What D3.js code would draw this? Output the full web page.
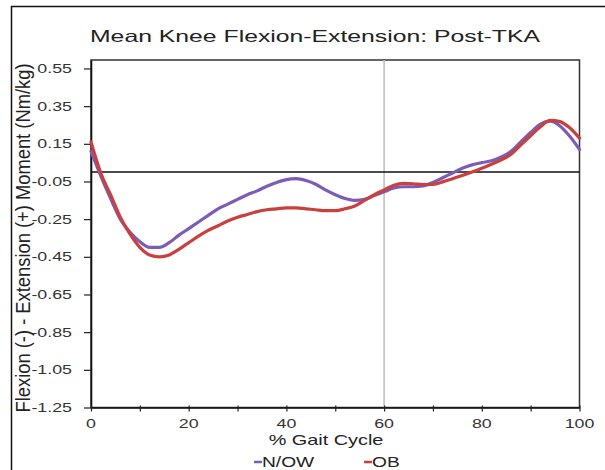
<!DOCTYPE html>
<html><head><meta charset="utf-8">
<script src="https://cdn.jsdelivr.net/npm/d3@7"></script>
<style>body{margin:0;background:#fff}svg{display:block;font-family:"Liberation Sans",Arial,sans-serif}</style>
</head><body><svg id="c" width="605" height="470"></svg>
<script>
const chartTitle = "Mean Knee Flexion-Extension: Post-TKA";
const xTitle = "% Gait Cycle";
const yTitle = "Flexion (-) - Extension (+) Moment (Nm/kg)";
const gaitPct = [0,2,4,6,8,10,12,14,16,18,20,22,24,26,28,30,32,34,36,38,40,42,44,46,48,50,52,54,56,58,60,62,64,66,68,70,72,74,76,78,80,82,84,86,88,90,92,94,96,98,100];
const nowValues = [0.11,-0.02,-0.14,-0.25,-0.32,-0.37,-0.40,-0.40,-0.375,-0.335,-0.30,-0.265,-0.23,-0.195,-0.17,-0.145,-0.12,-0.10,-0.075,-0.055,-0.04,-0.035,-0.045,-0.065,-0.095,-0.12,-0.14,-0.15,-0.145,-0.125,-0.105,-0.085,-0.078,-0.078,-0.074,-0.055,-0.03,-0.005,0.02,0.038,0.05,0.06,0.08,0.11,0.16,0.21,0.255,0.27,0.245,0.19,0.12];
const obValues = [0.16,-0.005,-0.12,-0.24,-0.33,-0.40,-0.44,-0.45,-0.44,-0.41,-0.375,-0.34,-0.31,-0.285,-0.26,-0.24,-0.225,-0.21,-0.20,-0.195,-0.19,-0.19,-0.195,-0.20,-0.205,-0.205,-0.195,-0.18,-0.15,-0.12,-0.095,-0.07,-0.06,-0.062,-0.066,-0.065,-0.052,-0.035,-0.018,0.0,0.02,0.042,0.065,0.095,0.145,0.193,0.24,0.275,0.268,0.235,0.18];
const yTickValues = [0.55,0.35,0.15,-0.05,-0.25,-0.45,-0.65,-0.85,-1.05,-1.25];
const xTickValues = [0,10,20,30,40,50,60,70,80,90,100];
const xLabelValues = [0,20,40,60,80,100];
const refLineX = 60;
const seriesNames = ["N/OW","OB"];
const seriesColors = ["#7b5db8","#c9403f"];

const svg = d3.select("#c");
const x = d3.scaleLinear().domain([0,100]).range([91,579.5]);
const y = d3.scaleLinear().domain([-1.25,0.595]).range([407.5,60]);
const SX = 1.37;
const txt = "#222";

// outer border
svg.append("rect").attr("x",11.5).attr("y",6.5).attr("width",640).attr("height",520)
  .attr("fill","none").attr("stroke","#111").attr("stroke-width",1.5);

// title
svg.append("text").attr("x",90).attr("y",42).attr("font-size",16.5).attr("fill",txt)
  .attr("textLength",450).attr("lengthAdjust","spacingAndGlyphs").text(chartTitle);

// plot frame
svg.append("rect").attr("x",x(0)).attr("y",y(0.595)).attr("width",x(100)-x(0)).attr("height",y(-1.25)-y(0.595))
  .attr("fill","none").attr("stroke","#333").attr("stroke-width",1.5);

// reference vertical line
svg.append("line").attr("x1",x(refLineX)).attr("x2",x(refLineX)).attr("y1",y(0.595)).attr("y2",y(-1.25))
  .attr("stroke","#bdbdbd").attr("stroke-width",1.5);

// zero line
svg.append("line").attr("x1",x(0)).attr("x2",x(100)).attr("y1",y(0)).attr("y2",y(0))
  .attr("stroke","#111").attr("stroke-width",1.4);

// y axis
const yAxis = d3.axisLeft(y).tickValues(yTickValues).tickSizeInner(7).tickSizeOuter(0).tickFormat(()=>"");
const gy = svg.append("g").attr("transform",`translate(${x(0)},0)`).call(yAxis);
gy.select(".domain").attr("stroke","#111").attr("stroke-width",1.6);
gy.selectAll(".tick line").attr("stroke","#222").attr("stroke-width",1.2);
svg.append("g").selectAll("g").data(yTickValues).join("g")
  .attr("transform",d=>`translate(72,${y(d)+4.6}) scale(${SX},1)`)
  .append("text").attr("text-anchor","end").attr("font-size",13).attr("fill","#333")
  .text(d=>d.toFixed(2));

// x axis
const xAxis = d3.axisBottom(x).tickValues(xTickValues).tickSizeInner(4).tickSizeOuter(0).tickFormat(()=>"");
const gx = svg.append("g").attr("transform",`translate(0,${y(-1.25)})`).call(xAxis);
gx.select(".domain").attr("stroke","#111").attr("stroke-width",1.6);
gx.selectAll(".tick line").attr("y1",-2).attr("stroke","#222").attr("stroke-width",1.2);
svg.append("g").selectAll("g").data(xLabelValues).join("g")
  .attr("transform",d=>`translate(${x(d)},428) scale(${SX},1)`)
  .append("text").attr("text-anchor","middle").attr("font-size",13).attr("fill","#333")
  .text(d=>d);

// x title
svg.append("g").attr("transform",`translate(326,445) scale(${SX},1)`)
  .append("text").attr("text-anchor","middle").attr("font-size",14.5).attr("fill",txt).text(xTitle);

// y title
svg.append("text").attr("transform",`translate(30,238) rotate(-90) scale(1,${SX})`)
  .attr("text-anchor","middle").attr("font-size",15).attr("fill",txt)
  .attr("textLength",349).attr("lengthAdjust","spacingAndGlyphs").text(yTitle);

// lines
const line = d3.line().x((d,i)=>x(gaitPct[i])).y(d=>y(d)).curve(d3.curveMonotoneX);
[nowValues, obValues].forEach((vals,k)=>{
  svg.append("path").datum(vals).attr("d",line).attr("fill","none")
    .attr("stroke",seriesColors[k]).attr("stroke-width",3.2).attr("stroke-linejoin","round").attr("stroke-linecap","round");
});

// legend
const legendX = [254,364];
seriesNames.forEach((n,k)=>{
  const g = svg.append("g").attr("transform",`translate(${legendX[k]},0)`);
  g.append("line").attr("x1",0).attr("x2",8).attr("y1",462).attr("y2",462)
    .attr("stroke",seriesColors[k]).attr("stroke-width",2.5);
  g.append("g").attr("transform",`translate(8,467) scale(${SX},1)`)
    .append("text").attr("font-size",14).attr("fill",txt).text(n);
});
</script></body></html>
